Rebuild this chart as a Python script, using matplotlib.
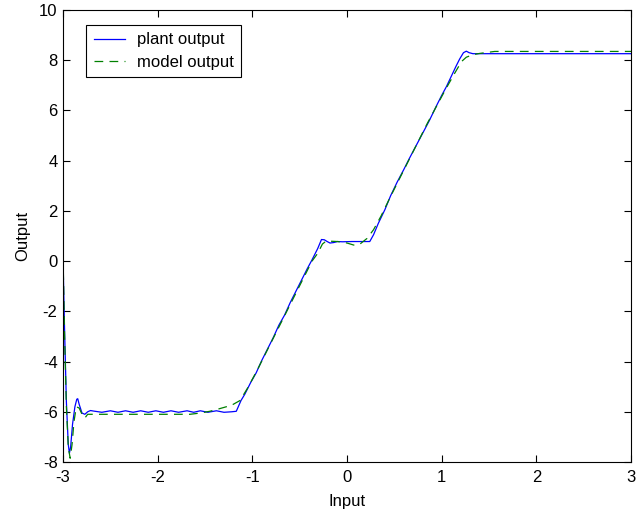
import matplotlib
matplotlib.use("Agg")
import matplotlib.pyplot as plt

plt.rcParams['font.family'] = ['Liberation Sans', 'DejaVu Sans']
plt.rcParams['font.size'] = 12
plt.rcParams['axes.unicode_minus'] = False

# plant output (blue, solid)
plant_x = [-3.0, -2.985, -2.965, -2.945, -2.933, -2.92, -2.90, -2.875, -2.855, -2.845,
           -2.83, -2.80, -2.77, -2.74, -2.71, -2.68, -2.59, -2.50, -2.42, -2.34,
           -2.26, -2.18, -2.10, -2.02, -1.94, -1.86, -1.78, -1.69, -1.62, -1.55,
           -1.47, -1.38, -1.30, -1.22, -1.17, -1.12, -1.08, -1.02, -0.96, -0.90,
           -0.84, -0.78, -0.72, -0.66, -0.60, -0.54, -0.48, -0.42, -0.37, -0.31,
           -0.27, -0.24, -0.21, -0.18, -0.14, -0.10, -0.05, 0.05, 0.15, 0.24,
           0.28, 0.33, 0.40, 0.46, 0.53, 0.60, 0.66, 0.73, 0.80, 0.87,
           0.94, 1.00, 1.05, 1.10, 1.15, 1.19, 1.23, 1.26, 1.29, 1.33,
           1.40, 3.0]
plant_y = [0.0, -2.6, -5.6, -7.3, -7.65, -7.4, -6.5, -5.8, -5.5, -5.48,
           -5.7, -6.05, -6.1, -6.0, -5.95, -5.97, -6.02, -5.96, -6.02, -5.96,
           -6.02, -5.96, -6.02, -5.96, -6.02, -5.96, -6.02, -5.96, -6.02, -5.96,
           -6.02, -5.96, -6.02, -6.0, -5.98, -5.55, -5.3, -4.85, -4.45, -3.95,
           -3.5, -3.05, -2.55, -2.15, -1.65, -1.2, -0.75, -0.3, 0.05, 0.5,
           0.86, 0.85, 0.78, 0.72, 0.74, 0.78, 0.77, 0.78, 0.78, 0.78,
           1.05, 1.5, 2.05, 2.6, 3.15, 3.65, 4.1, 4.6, 5.1, 5.6,
           6.15, 6.6, 6.95, 7.35, 7.75, 8.05, 8.3, 8.36, 8.3, 8.26,
           8.26, 8.26]

# model output (green, dashed)
model_x = [-3.0, -2.985, -2.965, -2.945, -2.925, -2.905, -2.885, -2.86, -2.83, -2.80,
           -2.77, -2.74, -2.70, -1.66, -1.55, -1.45, -1.35, -1.22, -1.13, -1.05,
           -0.95, -0.85, -0.75, -0.65, -0.55, -0.45, -0.37, -0.31, -0.26, -0.22,
           -0.10, 0.0, 0.07, 0.13, 0.21, 0.28, 0.36, 0.45, 0.55, 0.65,
           0.75, 0.85, 0.95, 1.05, 1.14, 1.21, 1.26, 1.33, 1.40, 1.48,
           1.56, 3.0]
model_y = [0.2, -2.8, -5.8, -7.4, -7.85, -7.3, -6.4, -5.8, -5.85, -6.1,
           -6.25, -6.1, -6.1, -6.1, -6.05, -5.98, -5.88, -5.74, -5.55, -5.05,
           -4.35, -3.6, -2.85, -2.1, -1.35, -0.6, 0.0, 0.31, 0.68, 0.8,
           0.78, 0.72, 0.64, 0.66, 0.9, 1.25, 1.8, 2.5, 3.25, 4.0,
           4.75, 5.5, 6.2, 6.9, 7.5, 7.95, 8.12, 8.22, 8.27, 8.31,
           8.35, 8.35]

fig = plt.figure(figsize=(6.37, 5.13), dpi=100)
ax = fig.add_axes([0.099, 0.0994, 0.8916, 0.8811])

ax.plot(plant_x, plant_y, color='#0000ff', lw=0.9, label='plant output')
ax.plot(model_x, model_y, color='#008000', lw=0.9, linestyle=(0, (7, 5)),
        label='model output')

ax.set_xlim(-3, 3)
ax.set_ylim(-8, 10)
ax.set_xticks([-3, -2, -1, 0, 1, 2, 3])
ax.set_yticks(range(-8, 11, 2))
ax.tick_params(direction='in', top=True, right=True, length=5, width=0.8, pad=4)
ax.tick_params(axis='x', pad=6)
for s in ax.spines.values():
    s.set_linewidth(0.8)

ax.set_xlabel('Input', labelpad=6)
ax.set_ylabel('Output', labelpad=6)

leg = ax.legend(loc='upper left', bbox_to_anchor=(0.0405, 0.967), borderaxespad=0,
                fancybox=False, framealpha=1, edgecolor='black', handlelength=1.9,
                borderpad=0.45, labelspacing=0.45, handletextpad=0.7)
leg.get_frame().set_linewidth(0.8)

fig.savefig('out.png', dpi=100)
